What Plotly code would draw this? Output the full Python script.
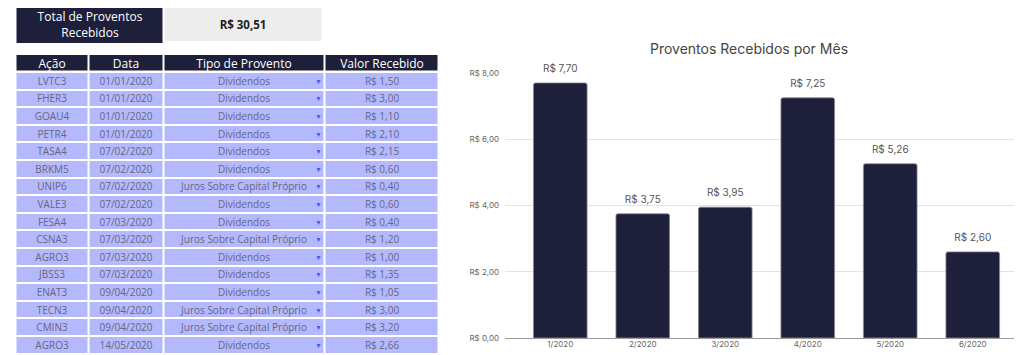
import plotly.graph_objects as go

# ---------------- data ----------------
acoes = ["LVTC3", "FHER3", "GOAU4", "PETR4", "TASA4", "BRKM5", "UNIP6", "VALE3",
         "FESA4", "CSNA3", "AGRO3", "JBSS3", "ENAT3", "TECN3", "CMIN3", "AGRO3"]
datas = ["01/01/2020", "01/01/2020", "01/01/2020", "01/01/2020", "07/02/2020", "07/02/2020",
         "07/02/2020", "07/02/2020", "07/03/2020", "07/03/2020", "07/03/2020", "07/03/2020",
         "09/04/2020", "09/04/2020", "09/04/2020", "14/05/2020"]
tipos = ["Dividendos", "Dividendos", "Dividendos", "Dividendos", "Dividendos", "Dividendos",
         "Juros Sobre Capital Próprio", "Dividendos", "Dividendos", "Juros Sobre Capital Próprio",
         "Dividendos", "Dividendos", "Dividendos", "Juros Sobre Capital Próprio",
         "Juros Sobre Capital Próprio", "Dividendos"]
valores = [1.50, 3.00, 1.10, 2.10, 2.15, 0.60, 0.40, 0.60, 0.40, 1.20, 1.00, 1.35,
           1.05, 3.00, 3.20, 2.66]
meses = ["1/2020", "2/2020", "3/2020", "4/2020", "5/2020", "6/2020"]
proventos_mes = [7.70, 3.75, 3.95, 7.25, 5.26, 2.60]
total_label = "Total de Proventos<br>Recebidos"
header_labels = ["Ação", "Data", "Tipo de Provento", "Valor Recebido"]

# ---------------- style / layout constants ----------------
W, H = 1024, 355
NAVY = "#1e1f3b"
ROW = "#b4b9fd"
GRAYBOX = "#ededed"
TXT = "#666680"
TFONT = "Open Sans"
CFONT = "Inter"

TBL_LEFT = 15.5
COL_W = [73, 75, 161, 114]
HDR_TOP, HDR_H, ROW_H = 55, 17, 17.6
BOX_TOP, BOX_BOT = 8, 42.5
BOX_W = [148, 159]


def brl(v):
    return "R$ " + f"{v:.2f}".replace(".", ",")


def solid(c):
    return [[0, c], [1, c]]


total = sum(proventos_mes)

col_edges = [TBL_LEFT]
for w in COL_W:
    col_edges.append(col_edges[-1] + w)
row_edges = [HDR_TOP + HDR_H + ROW_H * i for i in range(len(acoes) + 1)]
box_edges = [TBL_LEFT, TBL_LEFT + BOX_W[0], TBL_LEFT + BOX_W[0] + BOX_W[1]]

fig = go.Figure()

hm_common = dict(xaxis="x2", yaxis="y2", showscale=False, hoverinfo="skip",
                 zmin=0, zmax=1, texttemplate="%{text}")

# Total box (label + value)
fig.add_trace(go.Heatmap(x=box_edges[0:2], y=[BOX_TOP, BOX_BOT], z=[[0]],
                         text=[[total_label]], colorscale=solid(NAVY), xgap=2,
                         textfont=dict(family=TFONT, size=12, color="white"), **hm_common))
fig.add_trace(go.Heatmap(x=box_edges[1:3], y=[BOX_TOP, BOX_BOT - 1.5], z=[[0]],
                         text=[["<b>" + brl(total) + "</b>"]], colorscale=solid(GRAYBOX), xgap=2,
                         textfont=dict(family=TFONT, size=11.5, color="#222222"), **hm_common))

# Header row
fig.add_trace(go.Heatmap(x=col_edges, y=[HDR_TOP, HDR_TOP + HDR_H], z=[[0] * 4],
                         text=[header_labels], colorscale=solid(NAVY), xgap=2, ygap=1.5,
                         textfont=dict(family=TFONT, size=12, color="white"), **hm_common))

# Body rows
body_text = [[a, d, t, brl(v)] for a, d, t, v in zip(acoes, datas, tipos, valores)]
fig.add_trace(go.Heatmap(x=col_edges, y=row_edges, z=[[0] * 4 for _ in acoes],
                         text=body_text, colorscale=solid(ROW), xgap=2, ygap=2,
                         textfont=dict(family=TFONT, size=10, color=TXT), **hm_common))

# dropdown arrows in "Tipo de Provento" column
fig.add_trace(go.Scatter(
    x=[col_edges[3] - 6] * len(tipos),
    y=[(row_edges[i] + row_edges[i + 1]) / 2 + 1 for i in range(len(tipos))],
    mode="text", text=["▾"] * len(tipos), xaxis="x2", yaxis="y2",
    textfont=dict(size=8, color="#4a5cf5", family="DejaVu Sans"),
    hoverinfo="skip", showlegend=False))

# Bar chart
fig.add_trace(go.Bar(
    x=meses, y=proventos_mes,
    marker=dict(color=NAVY, line=dict(color="#8a8a99", width=0.8), cornerradius=2),
    width=0.65, showlegend=False, hoverinfo="skip",
))
fig.add_trace(go.Scatter(
    x=meses, y=proventos_mes, mode="markers+text",
    marker=dict(size=12, opacity=0), cliponaxis=False,
    text=[brl(v) for v in proventos_mes], textposition="top center",
    textfont=dict(family=CFONT, size=10, color="#555555"),
    showlegend=False, hoverinfo="skip",
))

fig.update_layout(
    width=W, height=H, margin=dict(l=0, r=0, t=0, b=0),
    paper_bgcolor="white", plot_bgcolor="white",
    separators=",.",
    showlegend=False,
    title=dict(text="Proventos Recebidos por Mês", x=749 / W, xanchor="center",
               y=1 - 49 / H, yanchor="middle", xref="paper", yref="paper",
               font=dict(family=CFONT, size=14, color="#444444")),
    xaxis=dict(domain=[505 / W, 1014 / W], range=[-0.67, 5.5], showgrid=False,
               tickfont=dict(family=CFONT, size=8, color="#666666"),
               ticks="", showline=False, zeroline=False, fixedrange=True,
               automargin=False),
    yaxis=dict(domain=[1 - 338 / H, 1 - 73 / H], range=[0, 8], dtick=2,
               tickprefix="R$ ", tickformat=".2f",
               tickfont=dict(family=CFONT, size=8, color="#666666"),
               gridcolor="#e3e3e3", gridwidth=1, zeroline=True,
               zerolinecolor="#9a9a9a", zerolinewidth=1.2, ticklabelstandoff=5,
               fixedrange=True, automargin=False),
    xaxis2=dict(domain=[0, 450 / W], range=[0, 450], visible=False, fixedrange=True,
                anchor="y2"),
    yaxis2=dict(domain=[0, 1], range=[H, 0], visible=False, fixedrange=True,
                anchor="x2"),
)

fig.write_html("out.html")
